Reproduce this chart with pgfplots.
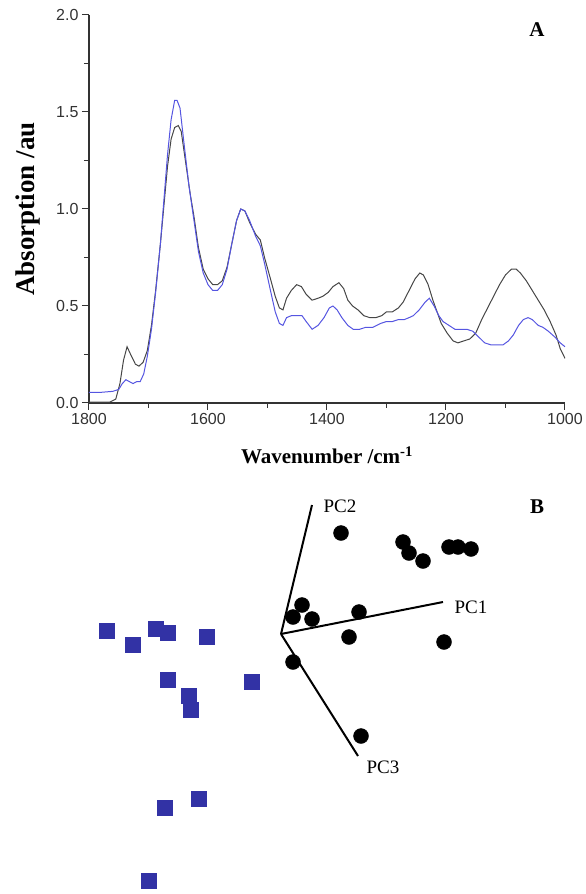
\documentclass[border=0pt]{standalone}
\usepackage{pgfplots}
\pgfplotsset{compat=1.18}
\usepackage{fontspec}
\setmainfont{Liberation Serif}
\newfontfamily\arialfont{Liberation Sans}
\definecolor{specgray}{RGB}{70,70,70}
\definecolor{specblue}{RGB}{85,85,225}
\definecolor{sqblue}{RGB}{50,50,165}
\begin{document}
\begin{tikzpicture}
\useasboundingbox (0,0) rectangle (586pt,894pt);
% ---------- Panel B (pixel coordinates, y downwards) ----------
\begin{axis}[
  at={(0pt,0pt)}, anchor=south west,
  width=586pt, height=894pt, scale only axis,
  xmin=0, xmax=586, ymin=0, ymax=894, y dir=reverse,
  hide axis, clip=false]
% PC axes
\addplot[black, line width=2pt] coordinates {(281,634) (312,505)};
\addplot[black, line width=2pt] coordinates {(281,634) (443,602)};
\addplot[black, line width=2pt] coordinates {(281,634) (358,756)};
% group 1: circles
\addplot[only marks, mark=*, mark size=7.5pt, color=black] coordinates {
(341,533) (403,542) (409,553) (423,561) (449,547) (458,547) (471,549)
(302,605) (293,617) (312,619) (359,612) (349,637) (444,642) (293,662) (361,736)};
% group 2: squares
\addplot[only marks, mark=square*, mark size=7.5pt, color=sqblue] coordinates {
(107,631) (133,645) (156,629) (168,633) (207,637) (168,680) (252,682)
(189,696) (191,710) (199,799) (165,808) (149,881)};
\node[font=\fontsize{19}{19}\selectfont] at (axis cs:340,506) {PC2};
\node[font=\fontsize{19}{19}\selectfont] at (axis cs:471,607) {PC1};
\node[font=\fontsize{19}{19}\selectfont] at (axis cs:383,767) {PC3};
\node[font=\fontsize{21}{21}\selectfont\bfseries] at (axis cs:537,507) {B};
\node[font=\fontsize{21}{21}\selectfont\bfseries] at (axis cs:537,30) {A};
\end{axis}
% ---------- Panel A ----------
\begin{axis}[
  at={(89pt,491pt)}, anchor=south west,
  width=476pt, height=388pt, scale only axis,
  x dir=reverse, xmin=1000, xmax=1800, ymin=0, ymax=2,
  axis x line=bottom, axis y line=left,
  axis line style={-, color=black!80, line width=1.2pt},
  xtick={1000,1200,...,1800}, minor xtick={1100,1300,1500,1700},
  ytick={0,0.5,...,2}, minor ytick={0.25,0.75,1.25,1.75},
  tick align=outside,
  major tick length=7pt, minor tick length=5pt,
  every tick/.style={color=black!80, line width=1pt},
  ticklabel style={font=\arialfont\fontsize{16}{16}\selectfont, text=black!80},
  /pgf/number format/assume math mode=true,
  xticklabel style={/pgf/number format/set thousands separator={}},
  yticklabel style={/pgf/number format/fixed, /pgf/number format/fixed zerofill, /pgf/number format/precision=1},
  xlabel={Wavenumber /cm\textsuperscript{-1}},
  ylabel={Absorption /au},
  xlabel style={font=\fontsize{21}{21}\selectfont\bfseries, at={(axis description cs:0.5,-0.135)}, anchor=center},
  ylabel style={font=\fontsize{27}{27}\selectfont\bfseries, at={(axis description cs:-0.128,0.5)}, anchor=center},
  clip=false]
\addplot[specgray, line width=1pt] coordinates {
(1800,0.005) (1780,0.005) (1765,0.005) (1755,0.02) (1748,0.10) (1742,0.22) (1736,0.29)
(1730,0.25) (1722,0.20) (1716,0.19) (1709,0.21) (1702,0.27) (1695,0.40) (1688,0.58)
(1680,0.82) (1674,1.02) (1668,1.22) (1662,1.36) (1656,1.42) (1650,1.43) (1645,1.40)
(1638,1.25) (1630,1.08) (1624,0.97) (1616,0.80) (1608,0.69) (1600,0.64) (1592,0.61)
(1584,0.61) (1576,0.63) (1568,0.70) (1560,0.82) (1552,0.94) (1545,1.00) (1538,0.99)
(1530,0.93) (1520,0.87) (1512,0.84) (1505,0.75) (1495,0.64) (1487,0.55) (1480,0.49)
(1474,0.48) (1468,0.54) (1460,0.58) (1451,0.61) (1443,0.60) (1435,0.56) (1425,0.53)
(1415,0.54) (1407,0.55) (1398,0.57) (1390,0.60) (1380,0.62) (1372,0.59) (1365,0.53)
(1357,0.50) (1348,0.48) (1338,0.45) (1328,0.44) (1318,0.44) (1308,0.45) (1300,0.47)
(1290,0.47) (1280,0.49) (1272,0.52) (1262,0.58) (1252,0.64) (1244,0.67) (1238,0.66)
(1230,0.61) (1222,0.53) (1215,0.47) (1208,0.41) (1198,0.36) (1188,0.32) (1180,0.31)
(1170,0.32) (1160,0.33) (1150,0.36) (1140,0.43) (1130,0.49) (1120,0.55) (1110,0.61)
(1100,0.66) (1090,0.69) (1082,0.69) (1075,0.67) (1065,0.63) (1055,0.58) (1045,0.53)
(1035,0.48) (1025,0.42) (1015,0.35) (1008,0.28) (1000,0.23)};
\addplot[specblue, line width=1pt] coordinates {
(1800,0.055) (1780,0.055) (1760,0.06) (1750,0.07) (1744,0.10) (1738,0.12) (1732,0.11)
(1726,0.10) (1720,0.11) (1714,0.11) (1708,0.15) (1702,0.24) (1695,0.38) (1688,0.57)
(1680,0.82) (1674,1.05) (1668,1.28) (1662,1.46) (1656,1.56) (1652,1.56) (1647,1.52)
(1640,1.33) (1632,1.12) (1624,0.95) (1616,0.78) (1608,0.67) (1600,0.61) (1592,0.58)
(1584,0.58) (1576,0.61) (1568,0.69) (1560,0.82) (1552,0.94) (1545,1.00) (1538,0.99)
(1530,0.94) (1520,0.86) (1512,0.81) (1505,0.72) (1495,0.58) (1487,0.47) (1480,0.41)
(1474,0.40) (1468,0.44) (1460,0.45) (1450,0.45) (1442,0.45) (1435,0.42) (1425,0.38)
(1415,0.40) (1405,0.44) (1396,0.49) (1390,0.50) (1383,0.48) (1375,0.44) (1365,0.40)
(1356,0.38) (1345,0.38) (1335,0.39) (1323,0.39) (1310,0.41) (1300,0.42) (1290,0.42)
(1280,0.43) (1270,0.43) (1262,0.44) (1255,0.45) (1245,0.48) (1235,0.52) (1228,0.54)
(1220,0.50) (1212,0.45) (1205,0.42) (1195,0.40) (1185,0.38) (1176,0.38) (1165,0.38)
(1155,0.37) (1145,0.34) (1135,0.31) (1125,0.30) (1115,0.30) (1104,0.30) (1095,0.32)
(1087,0.35) (1078,0.40) (1070,0.43) (1062,0.44) (1055,0.43) (1045,0.40) (1037,0.39)
(1028,0.37) (1017,0.34) (1008,0.31) (1000,0.29)};
\end{axis}
\end{tikzpicture}
\end{document}
